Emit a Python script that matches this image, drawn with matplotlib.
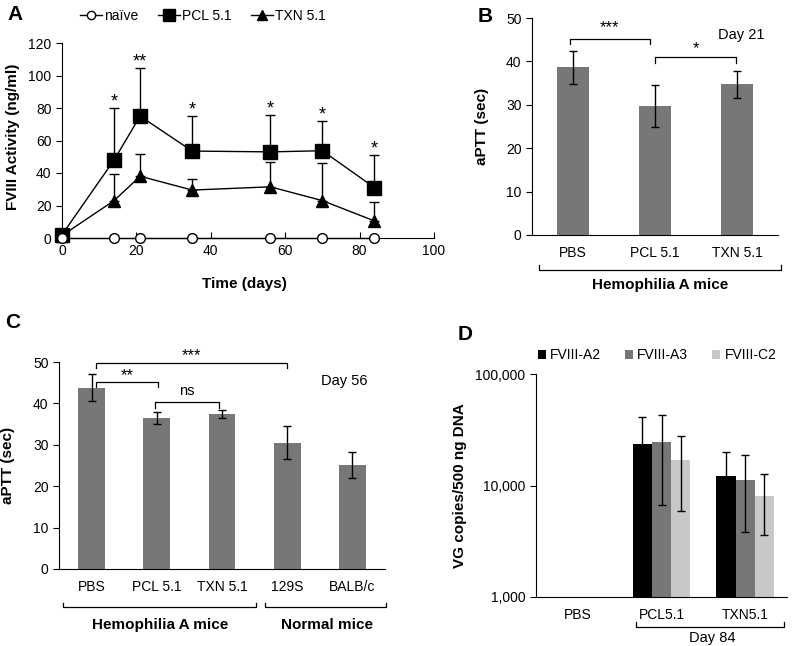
import numpy as np
import matplotlib
matplotlib.use('Agg')
import matplotlib.pyplot as plt
from matplotlib.ticker import FixedLocator, NullLocator

plt.rcParams['font.family'] = ['Liberation Sans', 'DejaVu Sans']
plt.rcParams['font.size'] = 10

# ---- panel A data
days = [0, 14, 21, 35, 56, 70, 84]
naive_mean = [0, 0, 0, 0, 0, 0, 0]
pcl_mean = [2, 48, 75, 53.5, 53, 53.7, 31]
pcl_err = [0, 32, 29.5, 21.5, 22.5, 18.5, 20]
txn_mean = [1.5, 23, 38, 29.5, 31.5, 23, 10.5]
txn_err = [0, 16.5, 14, 7, 15.5, 23, 11.5]
a_stars = ['*', '**', '*', '*', '*', '*']   # days 14..84

# ---- panel B data
b_groups = ['PBS', 'PCL 5.1', 'TXN 5.1']
b_mean = [38.7, 29.7, 34.7]
b_err = [3.8, 4.8, 3.2]

# ---- panel C data
c_groups = ['PBS', 'PCL 5.1', 'TXN 5.1', '129S', 'BALB/c']
c_mean = [43.8, 36.5, 37.4, 30.5, 25.1]
c_err = [3.3, 1.4, 0.95, 4.0, 3.2]

# ---- panel D data
d_groups = ['PBS', 'PCL5.1', 'TXN5.1']
d_series = ['FVIII-A2', 'FVIII-A3', 'FVIII-C2']
d_mean = {'FVIII-A2': [0, 23500, 12100],
          'FVIII-A3': [0, 24700, 11300],
          'FVIII-C2': [0, 16900, 8100]}
d_err = {'FVIII-A2': [0, 17300, 7700],
         'FVIII-A3': [0, 18000, 7500],
         'FVIII-C2': [0, 11000, 4500]}
d_colors = ['#000000', '#777777', '#c8c8c8']

BAR = '#777777'
W, H = 794, 646


def px_axes(l, t, r, b):
    # pixel box -> figure fraction
    return fig.add_axes([l / W, 1 - b / H, (r - l) / W, (b - t) / H])


def style(ax):
    ax.spines['top'].set_visible(False)
    ax.spines['right'].set_visible(False)
    ax.tick_params(axis='y', direction='out', length=4, width=0.8, labelsize=10)
    ax.tick_params(axis='x', length=0, labelsize=10, pad=8)


def bracket(ax, x0, x1, y, drop, text, ty, fs=12):
    ax.plot([x0, x0, x1, x1], [y - drop, y, y, y - drop], color='black',
            lw=0.9, clip_on=False)
    ax.text((x0 + x1) / 2, ty, text, ha='center', va='center', fontsize=fs)


def group_line(ax, x0, x1, y, up, label, lx, ly, fs=11, bold=True):
    tr = ax.transAxes
    ax.plot([x0, x0, x1, x1], [y + up, y, y, y + up], color='black', lw=0.9,
            transform=tr, clip_on=False)
    ax.text(lx, ly, label, transform=tr, ha='center', va='center',
            fontsize=fs, fontweight='bold' if bold else 'normal')


fig = plt.figure(figsize=(W / 100, H / 100), dpi=100)

# ================= A
ax = px_axes(62, 43, 434, 238)
style(ax)
ax.tick_params(axis='x', direction='in', length=4, width=0.8, pad=4)
ax.errorbar(days, pcl_mean, yerr=[np.zeros(len(days)), pcl_err], fmt='none',
            ecolor='black', elinewidth=1, capsize=3.5, capthick=1, clip_on=False)
ax.errorbar(days, txn_mean, yerr=[np.zeros(len(days)), txn_err], fmt='none',
            ecolor='black', elinewidth=1, capsize=3.5, capthick=1, clip_on=False)
l1, = ax.plot(days, naive_mean, '-o', color='black', mfc='white', mec='black',
              ms=7, lw=1, clip_on=False, zorder=5, label='naïve')
l2, = ax.plot(days, pcl_mean, '-s', color='black', ms=10, lw=1, clip_on=False,
              zorder=4, label='PCL 5.1')
l3, = ax.plot(days, txn_mean, '-^', color='black', ms=9, lw=1, clip_on=False,
              zorder=4, label='TXN 5.1')
for d, m, e, s in zip(days[1:], pcl_mean[1:], pcl_err[1:], a_stars):
    ax.text(d, m + e + 1, s, ha='center', va='baseline', fontsize=13)
ax.set_xlim(0, 100)
ax.set_ylim(0, 120)
ax.set_xticks(range(0, 101, 20))
ax.set_yticks(range(0, 121, 20))
ax.set_xlabel('Time (days)', fontsize=11, fontweight='bold')
ax.xaxis.set_label_coords(0.49, -0.2)
ax.set_ylabel('FVIII Activity (ng/ml)', fontsize=11, fontweight='bold')
ax.yaxis.set_label_coords(-0.114, 0.52)
fig.legend(handles=[l1, l2, l3], loc='center', bbox_to_anchor=(203 / W, 1 - 16 / H),
           ncol=3, frameon=False, handlelength=1.6, handletextpad=0.15,
           columnspacing=1.4, fontsize=10, markerscale=0.85)

# ================= B
ax = px_axes(532, 18, 778, 235)
style(ax)
xb = np.arange(len(b_groups))
ax.bar(xb, b_mean, width=0.4, color=BAR)
ax.errorbar(xb, b_mean, yerr=b_err, fmt='none', ecolor='black', elinewidth=1,
            capsize=3, capthick=1)
ax.set_xlim(-0.5, 2.5)
ax.set_ylim(0, 50)
ax.set_xticks(xb)
ax.set_xticklabels(b_groups)
ax.set_yticks(range(0, 51, 10))
ax.set_ylabel('aPTT (sec)', fontsize=11, fontweight='bold')
ax.yaxis.set_label_coords(-0.175, 0.5)
bracket(ax, -0.04, 0.94, 45.2, 1.3, '***', 47.8)
bracket(ax, 1.0, 1.99, 40.9, 1.2, '*', 43)
ax.text(2.05, 46.1, 'Day 21', ha='center', va='center', fontsize=10.5)
group_line(ax, 0.028, 1.012, -0.161, 0.025, 'Hemophilia A mice', 0.52, -0.23)

# ================= C
ax = px_axes(59, 362, 385, 569)
style(ax)
xc = np.arange(len(c_groups))
ax.bar(xc, c_mean, width=0.41, color=BAR)
ax.errorbar(xc, c_mean, yerr=c_err, fmt='none', ecolor='black', elinewidth=1,
            capsize=3, capthick=1)
ax.set_xlim(-0.5, 4.5)
ax.set_ylim(0, 50)
ax.set_xticks(xc)
ax.set_xticklabels(c_groups)
ax.set_yticks(range(0, 51, 10))
ax.set_ylabel('aPTT (sec)', fontsize=11, fontweight='bold')
ax.yaxis.set_label_coords(-0.135, 0.5)
bracket(ax, 0.06, 2.99, 49.8, 1.3, '***', 51.6)
bracket(ax, 0.06, 1.02, 45.2, 1.2, '**', 46.6)
bracket(ax, 0.98, 1.95, 40.3, 1.3, 'ns', 43.1, fs=10.5)
ax.text(3.88, 45.4, 'Day 56', ha='center', va='center', fontsize=10.5)
group_line(ax, 0.012, 0.604, -0.184, 0.022, 'Hemophilia A mice', 0.311, -0.27)
group_line(ax, 0.632, 1.003, -0.184, 0.022, 'Normal mice', 0.821, -0.27)

# ================= D
ax = px_axes(536, 374, 787, 597)
style(ax)
ax.set_yscale('log')
xd = np.arange(len(d_groups))
offs = [-0.23, 0.0, 0.23]
for name, col, o in zip(d_series, d_colors, offs):
    m = np.array(d_mean[name], dtype=float)
    e = np.array(d_err[name], dtype=float)
    keep = m > 0
    ax.bar(xd[keep] + o, m[keep], width=0.23, color=col, label=name)
    ax.errorbar(xd[keep] + o, m[keep], yerr=e[keep], fmt='none', ecolor='black',
                elinewidth=1, capsize=3, capthick=1)
ax.set_xlim(-0.5, 2.5)
ax.set_ylim(1000, 100000)
ax.yaxis.set_major_locator(FixedLocator([1000, 10000, 100000]))
ax.yaxis.set_minor_locator(NullLocator())
ax.set_yticklabels(['1,000', '10,000', '100,000'])
ax.set_xticks(xd)
ax.set_xticklabels(d_groups)
ax.set_ylabel('VG copies/500 ng DNA', fontsize=11, fontweight='bold')
ax.yaxis.set_label_coords(-0.275, 0.5)
ax.legend(loc='center', bbox_to_anchor=(0.482, 1.085), ncol=3, frameon=False,
          handlelength=0.6, handleheight=0.6, handletextpad=0.3,
          columnspacing=1.7, fontsize=10)
group_line(ax, 0.398, 0.988, -0.133, 0.022, 'Day 84', 0.701, -0.184,
           fs=10.5, bold=False)

# panel letters
for lab, x, y in [('A', 15, 15), ('B', 485, 16), ('C', 13, 322), ('D', 465, 335)]:
    fig.text(x / W, 1 - y / H, lab, ha='center', va='center', fontsize=15,
             fontweight='bold')

fig.savefig('out.png', dpi=100)
